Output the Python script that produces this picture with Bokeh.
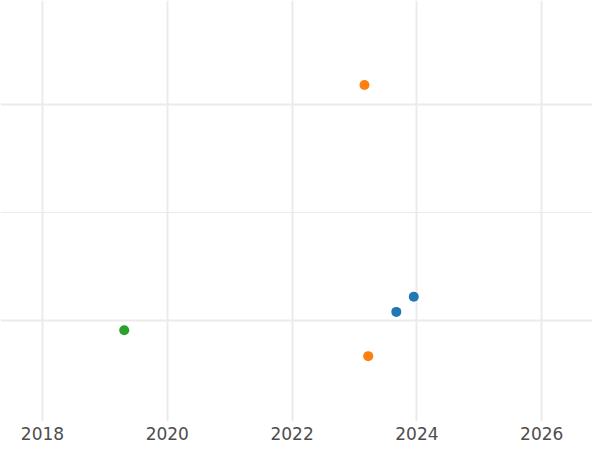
from bokeh.plotting import figure
from bokeh.models import FixedTicker, Grid, Range1d, ColumnDataSource
from bokeh.embed import file_html
from bokeh.resources import INLINE

# data
years = [2023.16, 2023.67, 2023.95, 2019.31, 2023.22]
values = [2.18, 0.08, 0.22, -0.09, -0.33]
colors = ["#ff7f0e", "#1f77b4", "#1f77b4", "#2ca02c", "#ff7f0e"]
x_ticks = [2018, 2020, 2022, 2024, 2026]
y_major = [0, 2]
y_minor = [1]

src = ColumnDataSource(dict(x=years, y=values, c=colors))

p = figure(width=592, height=442, output_backend="svg", toolbar_location=None,
           x_range=Range1d(2017.327, 2026.814), y_range=Range1d(-0.935, 2.963),
           y_axis_location=None, min_border=0, outline_line_color=None,
           background_fill_color="white", border_fill_color="white")

p.xaxis.ticker = FixedTicker(ticks=x_ticks)
p.xaxis.axis_line_color = None
p.xaxis.major_tick_line_color = None
p.xaxis.minor_tick_line_color = None
p.xaxis.major_tick_out = 0
p.xaxis.major_tick_in = 0
p.xaxis.major_label_standoff = 5
p.xaxis.major_label_text_font = "DejaVu Sans"
p.xaxis.major_label_text_font_size = "17px"
p.xaxis.major_label_text_color = "#4d4d4d"

p.xgrid.grid_line_color = "#ebebeb"
p.xgrid.grid_line_width = 2

for g in p.ygrid:
    g.ticker = FixedTicker(ticks=y_major)
    g.grid_line_color = "#ebebeb"
    g.grid_line_width = 2
    g.minor_grid_line_color = None

yg2 = Grid(dimension=1, ticker=FixedTicker(ticks=y_minor),
           grid_line_color="#ebebeb", grid_line_width=1)
p.add_layout(yg2, "center")

p.scatter("x", "y", source=src, size=10, fill_color="c", line_color=None)

open("out.html", "w").write(file_html(p, INLINE))
